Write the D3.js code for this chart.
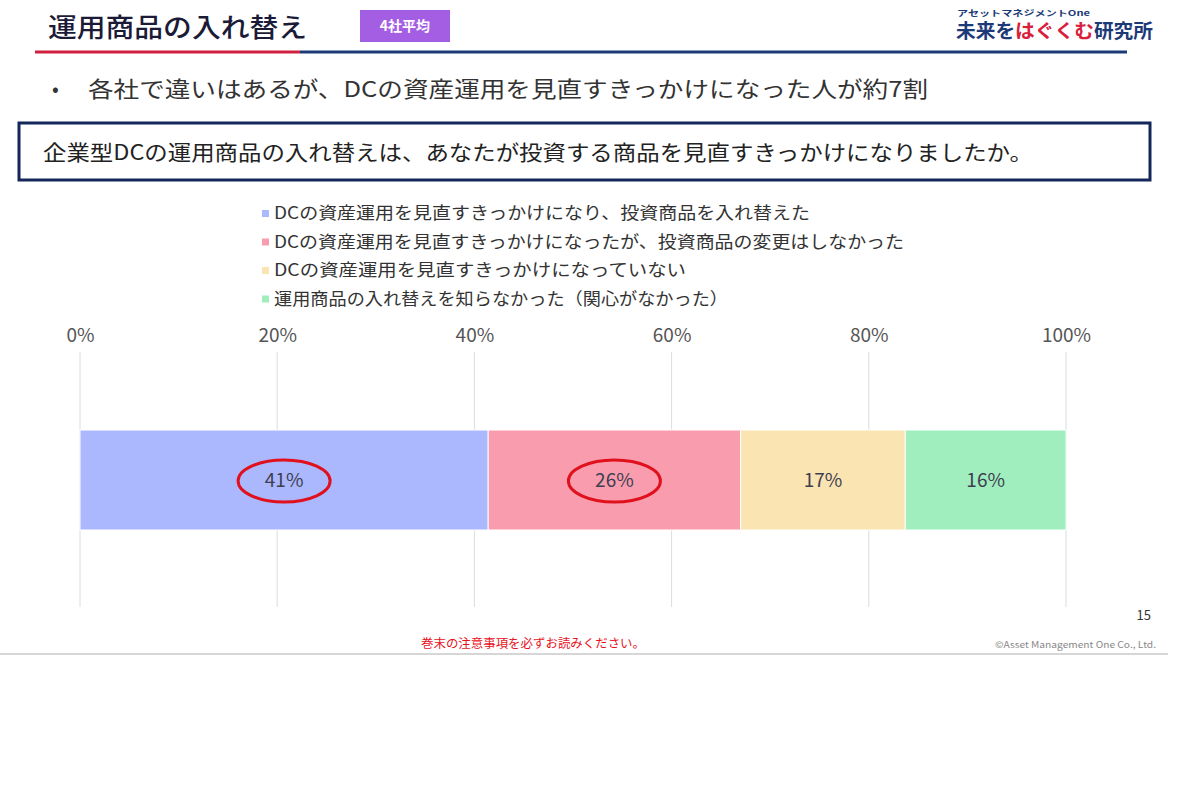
<!DOCTYPE html>
<html>
<head>
<meta charset="utf-8">
<script src="https://cdn.jsdelivr.net/npm/d3@7"></script>
<style>
  body { margin: 0; background: #fff; }
  text { font-family: "Noto Sans CJK JP", "Noto Sans", sans-serif; }
</style>
</head>
<body>
<div id="chart"></div>
<script>
// data
var categories = [
  "DCの資産運用を見直すきっかけになり、投資商品を入れ替えた",
  "DCの資産運用を見直すきっかけになったが、投資商品の変更はしなかった",
  "DCの資産運用を見直すきっかけになっていない",
  "運用商品の入れ替えを知らなかった（関心がなかった）"
];
var values = [41.4, 25.6, 16.7, 16.3];
var valueLabels = ["41%", "26%", "17%", "16%"];
var tickValues = [0, 20, 40, 60, 80, 100];
var colors = ["#abb8fd", "#f99dae", "#fae4b1", "#a0eebe"];
var circled = [0, 1];

var W = 1200, H = 800;
var svg = d3.select("#chart").append("svg")
    .attr("width", W).attr("height", H);

svg.append("rect").attr("width", W).attr("height", H).attr("fill", "#fff");

// squeeze text to the width seen in the slide
function fit(sel, w) {
  sel.attr("textLength", w).attr("lengthAdjust", "spacingAndGlyphs");
  return sel;
}

// header
fit(svg.append("text")
    .attr("x", 48).attr("y", 37)
    .attr("font-size", 26).attr("font-weight", 500)
    .attr("fill", "#1b1b38")
    .text("運用商品の入れ替え"), 259);

svg.append("rect")
    .attr("x", 360).attr("y", 10).attr("width", 90).attr("height", 32)
    .attr("fill", "#a35ee3");
svg.append("text")
    .attr("x", 405).attr("y", 31).attr("text-anchor", "middle")
    .attr("font-size", 14).attr("font-weight", 700).attr("fill", "#fff")
    .text("4社平均");

svg.append("line").attr("x1", 35).attr("x2", 300).attr("y1", 52).attr("y2", 52)
    .attr("stroke", "#d0203f").attr("stroke-width", 3);
svg.append("line").attr("x1", 300).attr("x2", 1127).attr("y1", 52).attr("y2", 52)
    .attr("stroke", "#1d3a78").attr("stroke-width", 3);

// logo
fit(svg.append("text")
    .attr("x", 957).attr("y", 16)
    .attr("font-size", 8).attr("font-weight", 700).attr("fill", "#1d3a78")
    .text("アセットマネジメントOne"), 133);
var logo = svg.append("text")
    .attr("x", 956).attr("y", 38)
    .attr("font-size", 19).attr("font-weight", 700);
logo.append("tspan").attr("fill", "#1d3a78").text("未来を");
logo.append("tspan").attr("fill", "#d8203c").text("はぐくむ");
logo.append("tspan").attr("fill", "#1d3a78").text("研究所");
fit(logo, 197);

// bullet
svg.append("text").attr("x", 52).attr("y", 96)
    .attr("font-size", 20).attr("fill", "#333").text("•");
fit(svg.append("text")
    .attr("x", 88).attr("y", 97)
    .attr("font-size", 22).attr("fill", "#333")
    .text("各社で違いはあるが、DCの資産運用を見直すきっかけになった人が約7割"), 840);

// question box
svg.append("rect")
    .attr("x", 19).attr("y", 123).attr("width", 1131).attr("height", 57)
    .attr("fill", "none").attr("stroke", "#15275a").attr("stroke-width", 3);
fit(svg.append("text")
    .attr("x", 43).attr("y", 160)
    .attr("font-size", 21).attr("fill", "#222")
    .text("企業型DCの運用商品の入れ替えは、あなたが投資する商品を見直すきっかけになりましたか。"), 990);

// legend
var legendWidths = [536, 630, 412, 454];
var legend = svg.append("g").attr("class", "legend");
categories.forEach(function(c, i) {
  var y = 213 + i * 28.5;
  legend.append("rect")
      .attr("x", 262).attr("y", y - 3).attr("width", 7).attr("height", 7)
      .attr("fill", colors[i]);
  fit(legend.append("text")
      .attr("x", 274).attr("y", y + 6)
      .attr("font-size", 17).attr("fill", "#333")
      .text(c), legendWidths[i]);
});

// scales
var xScale = d3.scaleLinear().domain([0, 100]).range([80, 1066]);
var stackStart = d3.cumsum([0].concat(values)).slice(0, values.length);
var yTop = 352, yBottom = 607, barTop = 430, barH = 100;

// axis labels + grid
var xAxis = d3.axisTop(xScale)
    .tickValues(tickValues)
    .tickFormat(function(d) { return d + "%"; })
    .tickSize(0).tickPadding(0);
var ax = svg.append("g")
    .attr("class", "x axis")
    .attr("transform", "translate(0,342)")
    .call(xAxis);
ax.select(".domain").remove();
ax.selectAll("text")
    .attr("font-family", "\"Noto Sans CJK JP\", sans-serif")
    .attr("font-size", 19).attr("fill", "#555");

svg.append("g").selectAll("line")
    .data(tickValues)
    .enter().append("line")
    .attr("x1", function(d) { return xScale(d); })
    .attr("x2", function(d) { return xScale(d); })
    .attr("y1", yTop).attr("y2", yBottom)
    .attr("stroke", "#dcdcdc").attr("stroke-width", 1);

// bars
svg.append("g").selectAll("rect")
    .data(values)
    .enter().append("rect")
    .attr("x", function(d, i) { return xScale(stackStart[i]); })
    .attr("y", barTop)
    .attr("width", function(d, i) { return xScale(stackStart[i] + d) - xScale(stackStart[i]); })
    .attr("height", barH)
    .attr("fill", function(d, i) { return colors[i]; })
    .attr("stroke", "#fff").attr("stroke-width", 1);

svg.append("g").selectAll("text")
    .data(values)
    .enter().append("text")
    .attr("x", function(d, i) { return xScale(stackStart[i] + d / 2); })
    .attr("y", barTop + barH / 2 + 7)
    .attr("text-anchor", "middle")
    .attr("font-size", 19).attr("fill", "#3e3e52")
    .text(function(d, i) { return valueLabels[i]; });

// red circles
svg.append("g").selectAll("ellipse")
    .data(circled)
    .enter().append("ellipse")
    .attr("cx", function(i) { return xScale(stackStart[i] + values[i] / 2); })
    .attr("cy", barTop + barH / 2 + 1)
    .attr("rx", 46).attr("ry", 21)
    .attr("fill", "none").attr("stroke", "#e0101c").attr("stroke-width", 3);

// footer
svg.append("text").attr("x", 1151).attr("y", 620).attr("text-anchor", "end")
    .attr("font-size", 13).attr("fill", "#333").text("15");
fit(svg.append("text")
    .attr("x", 421).attr("y", 648)
    .attr("font-size", 12).attr("fill", "#e8101c")
    .text("巻末の注意事項を必ずお読みください。"), 224);
fit(svg.append("text")
    .attr("x", 995).attr("y", 648)
    .attr("font-size", 9).attr("fill", "#888")
    .text("©Asset Management One Co., Ltd."), 161);
svg.append("line").attr("x1", 0).attr("x2", 1168).attr("y1", 654).attr("y2", 654)
    .attr("stroke", "#c8c8c8").attr("stroke-width", 1.5);
</script>
</body>
</html>
